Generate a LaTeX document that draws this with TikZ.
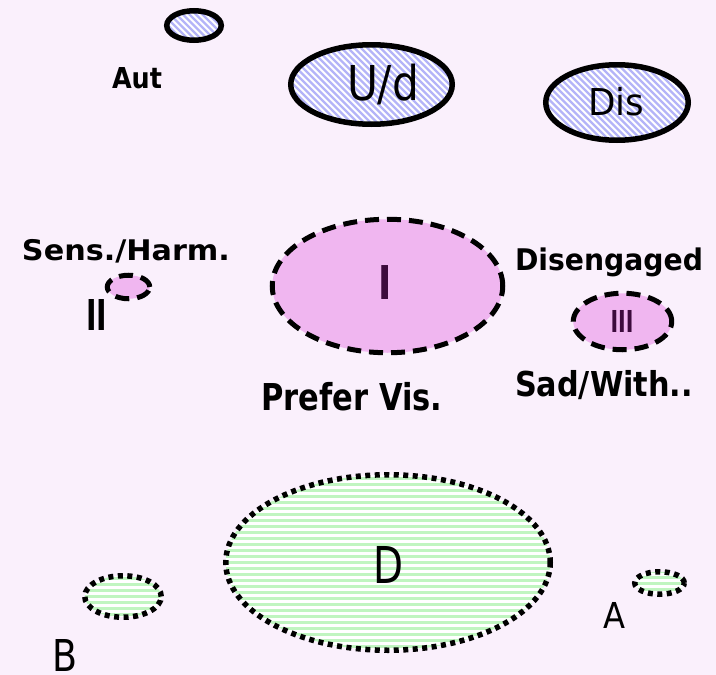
\documentclass[tikz,border=0pt]{standalone}
\usepackage{fontspec}
\setmainfont{DejaVu Sans}
\usepackage{graphicx}
\usetikzlibrary{shapes.geometric}
\definecolor{bgcol}{HTML}{FAF0FC}
\definecolor{pinkfill}{HTML}{F0B6F0}
\definecolor{hatchblue}{HTML}{B4B4F8}
\definecolor{stripegreen}{HTML}{C0F5C0}
\definecolor{romancol}{HTML}{3C0A3C}
\newcommand\mylbl[3]{\resizebox{#1pt}{\height}{\fontsize{#2}{#2}\selectfont #3}}
\tikzset{
  oval/.style 2 args={ellipse, inner sep=0pt, minimum width=#1, minimum height=#2},
  bluehatch/.style={path picture={
    \fill[white] (path picture bounding box.south west) rectangle (path picture bounding box.north east);
    \foreach \k in {-50,...,50}{\draw[hatchblue, solid, line width=2.2pt] ([shift={(6.5*\k-200,-200)}]path picture bounding box.center) -- ++(400,400);}
  }},
  greenstripe/.style={path picture={
    \fill[white] (path picture bounding box.south west) rectangle (path picture bounding box.north east);
    \foreach \k in {-20,...,20}{\draw[stripegreen, solid, line width=3pt] ([shift={(-200,6*\k)}]path picture bounding box.center) -- ++(400,0);}
  }},
  solidoval/.style={draw=black, line width=5.5pt, bluehatch},
  dashoval/.style={draw=black, line width=5pt, dash pattern=on 14pt off 8pt, fill=pinkfill},
  dotoval/.style={draw=black, line width=5.5pt, dash pattern=on 5pt off 4.5pt, greenstripe},
  txt/.style={inner sep=0pt, anchor=base, text=black},
  roman/.style={inner sep=0pt, anchor=base, text=romancol, font=\bfseries},
}
\begin{document}
\begin{tikzpicture}[x=1pt, y=-1pt]
\useasboundingbox (0,0) rectangle (716,675);
\fill[bgcol] (0,0) rectangle (716,675);
% top row: solid hatched ellipses
\node[solidoval, oval={54.5}{29.5}] (aut) at (194,25.5) {};
\node[solidoval, oval={161.5}{79.5}] (ud) at (371.5,84.5) {};
\node[solidoval, oval={142.5}{75.5}] (dis) at (617,102.5) {};
\node[txt, font=\bfseries] (autlbl) at (137,88) {\mylbl{50}{28.8}{Aut}};
\node[txt] (udlbl) at (383,100) {\mylbl{72}{48}{U/d}};
\node[txt] (dislbl) at (616,115) {\mylbl{56}{37}{Dis}};
% middle row: dashed pink ellipses
\node[dashoval, oval={42.5}{23.5}] (two) at (128.5,287) {};
\node[dashoval, oval={230.5}{133.5}] (one) at (387.5,286) {};
\node[dashoval, oval={98.5}{56.5}] (three) at (622.5,321.5) {};
\node[roman] (onelbl) at (385,299) {\mylbl{13.3}{46.6}{I}};
\node[roman] (threelbl) at (622,332) {\mylbl{23}{30.2}{III}};
\node[txt, font=\bfseries] (twolbl) at (96.5,330) {\mylbl{21}{42.5}{II}};
\node[txt, font=\bfseries] (sens) at (126,260.5) {\mylbl{208}{28.4}{Sens./Harm.}};
\node[txt, font=\bfseries] (pref) at (352,410) {\mylbl{181}{37}{Prefer Vis.}};
\node[txt, font=\bfseries] (diseng) at (609,270) {\mylbl{188}{29.8}{Disengaged}};
\node[txt, font=\bfseries] (sad) at (604,396.5) {\mylbl{178}{34.3}{Sad/With..}};
% bottom row: dotted green ellipses
\node[dotoval, oval={324.5}{175.5}] (d) at (388,562.5) {};
\node[dotoval, oval={76.5}{41.5}] (b) at (123,596.5) {};
\node[dotoval, oval={49.5}{22.5}] (a) at (659.5,583) {};
\node[txt] (dlbl) at (388,583) {\mylbl{30}{50.8}{D}};
\node[txt] (albl) at (614,628) {\mylbl{22}{35.7}{A}};
\node[txt] (blbl) at (65.5,671) {\mylbl{25}{43.9}{B}};
\end{tikzpicture}
\end{document}
